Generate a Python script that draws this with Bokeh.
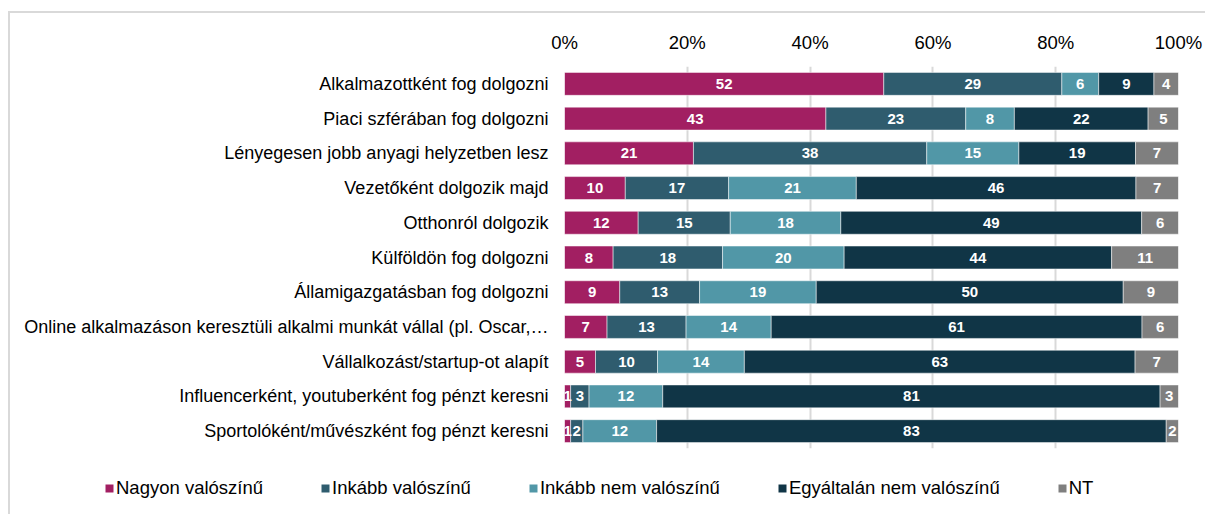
import numpy as np
from bokeh.plotting import figure
from bokeh.layouts import column
from bokeh.models import ColumnDataSource, FactorRange, FixedTicker, PrintfTickFormatter, Legend, LegendItem
from bokeh.core.properties import value
from bokeh.embed import file_html
from bokeh.resources import INLINE

categories = [
    "Alkalmazottként fog dolgozni",
    "Piaci szférában fog dolgozni",
    "Lényegesen jobb anyagi helyzetben lesz",
    "Vezetőként dolgozik majd",
    "Otthonról dolgozik",
    "Külföldön fog dolgozni",
    "Államigazgatásban fog dolgozni",
    "Online alkalmazáson keresztüli alkalmi munkát vállal (pl. Oscar,…",
    "Vállalkozást/startup-ot alapít",
    "Influencerként, youtuberként fog pénzt keresni",
    "Sportolóként/művészként fog pénzt keresni",
]
series_names = ["Nagyon valószínű", "Inkább valószínű", "Inkább nem valószínű",
                "Egyáltalán nem valószínű", "NT"]
nagyon = [52, 43, 21, 10, 12, 8, 9, 7, 5, 1, 1]
inkabb = [29, 23, 38, 17, 15, 18, 13, 13, 10, 3, 2]
inkabb_nem = [6, 8, 15, 21, 18, 20, 19, 14, 14, 12, 12]
egyaltalan = [9, 22, 19, 46, 49, 44, 50, 61, 63, 81, 83]
nt = [4, 5, 7, 7, 6, 11, 9, 6, 7, 3, 2]
tick_values = [0, 20, 40, 60, 80, 100]

colors = ["#A21F62", "#2F5C6E", "#5197A7", "#103546", "#7F7F7F"]
FONT = "Liberation Sans"
FS = "18.5px"

raw = np.array([nagyon, inkabb, inkabb_nem, egyaltalan, nt], dtype=float)
norm = raw / raw.sum(axis=0) * 100.0
keys = ["s0", "s1", "s2", "s3", "s4"]
data = {"cat": categories}
for k, row in zip(keys, norm):
    data[k] = row
source = ColumnDataSource(data)

W = 1195
p = figure(
    width=W, height=450,
    y_range=FactorRange(*reversed(categories)),
    x_range=(0, 100),
    x_axis_location="above",
    output_backend="svg", toolbar_location=None,
    min_border_left=554, min_border_right=27,
    min_border_top=53, min_border_bottom=15,
)
p.outline_line_color = None
p.frame_align = False

p.hbar_stack(keys, y="cat", height=0.66, color=colors, source=source,
             line_color="white", line_width=0.5)

# segment labels
cum = np.cumsum(norm, axis=0)
lx, ly, lt = [], [], []
for i in range(norm.shape[0]):
    for j, c in enumerate(categories):
        lx.append(cum[i, j] - norm[i, j] / 2.0)
        ly.append(c)
        lt.append(str(int(raw[i, j])))
lsrc = ColumnDataSource(dict(x=lx, y=ly, t=lt))
p.text(x="x", y="y", text="t", source=lsrc, text_align="center", text_baseline="middle",
       text_color="white", text_font=value(FONT), text_font_style="bold",
       text_font_size="15px")

p.xaxis.ticker = FixedTicker(ticks=tick_values)
p.xaxis.formatter = PrintfTickFormatter(format="%d%%")
for ax in [p.xaxis[0], p.yaxis[0]]:
    ax.axis_line_color = None
    ax.major_tick_line_color = None
    ax.minor_tick_line_color = None
    ax.major_tick_out = 0
    ax.major_tick_in = 0
    ax.major_label_text_font = FONT
    ax.major_label_text_font_size = FS
    ax.major_label_text_color = "#000000"
p.yaxis.major_label_text_font_size = "18px"
p.xaxis.major_label_standoff = 14
p.yaxis.major_label_standoff = 16

p.ygrid.grid_line_color = None
p.xgrid.grid_line_color = "#d9d9d9"
p.xgrid.grid_line_width = 2

# legend panel
p2 = figure(width=W, height=51, x_axis_type=None, y_axis_type=None,
            output_backend="svg", toolbar_location=None,
            min_border_left=0, min_border_right=0, min_border_top=0, min_border_bottom=0)
p2.frame_align = False
p2.outline_line_color = None
p2.grid.grid_line_color = None
items = []
for name, c in zip(series_names, colors):
    r = p2.vbar(x=[0], top=[0], bottom=[0], width=0, fill_color=c, line_color=None)
    items.append(LegendItem(label=name, renderers=[r]))
lg = Legend(items=items, orientation="horizontal", location=(94, 15))
lg.border_line_color = None
lg.background_fill_alpha = 0
lg.padding = 0
lg.margin = 0
lg.spacing = 57
lg.glyph_width = 10
lg.glyph_height = 10
lg.label_standoff = 2
lg.label_text_font = FONT
lg.label_text_font_size = FS
lg.label_text_color = "#000000"
lg.label_height = 20
p2.add_layout(lg, "center")

layout = column(p, p2, spacing=0)
layout.styles = {"border-top": "2px solid #d9d9d9", "border-left": "2px solid #d9d9d9",
                 "margin-top": "11px", "margin-left": "8px"}

open("out.html", "w").write(file_html(layout, INLINE))
